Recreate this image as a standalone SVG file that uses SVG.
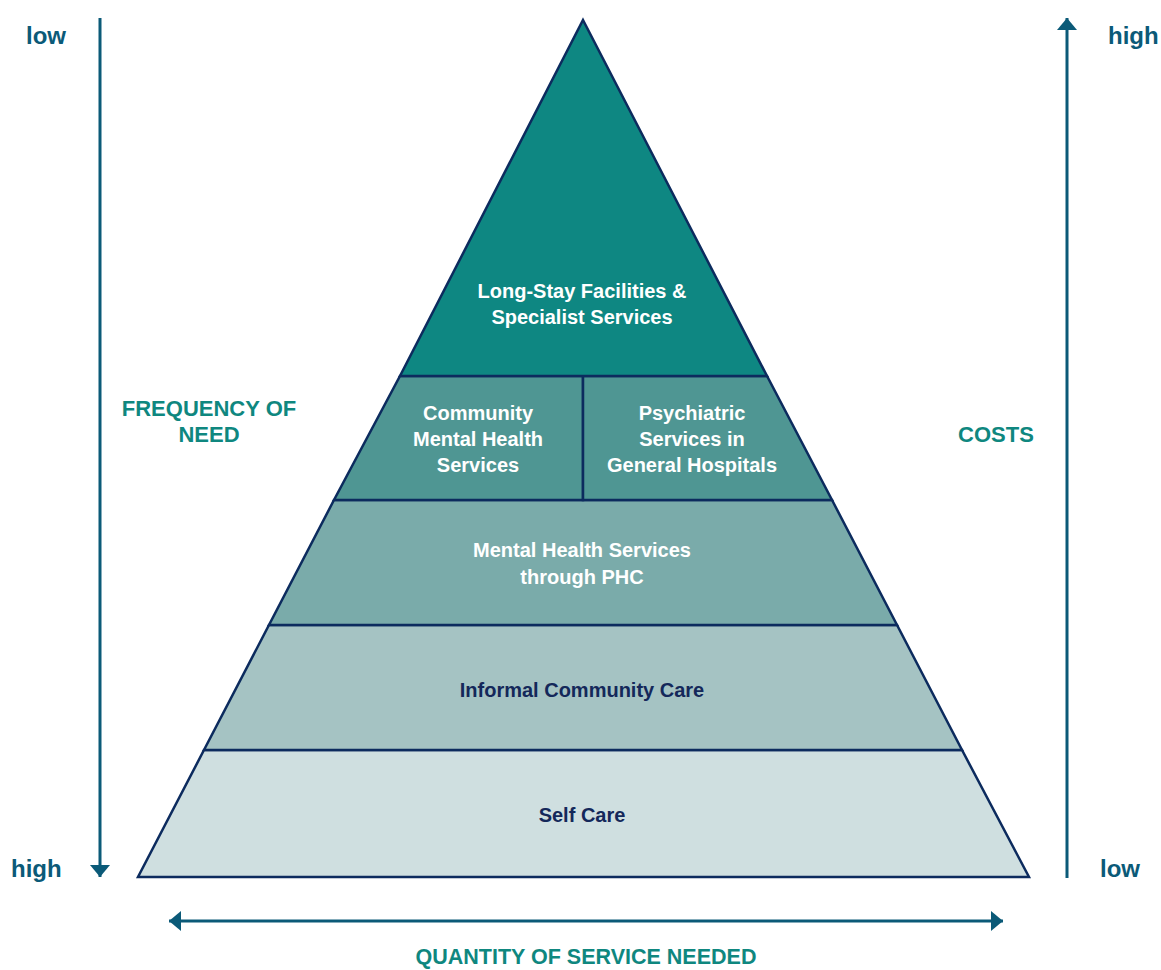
<svg xmlns="http://www.w3.org/2000/svg" width="1161" height="970" viewBox="0 0 1161 970">
<defs>
<style>
.band{stroke:#0c2b5e;stroke-width:2.5;stroke-linejoin:miter}
.wt{font-family:"Liberation Sans",Arial,sans-serif;font-weight:bold;font-size:20px;fill:#ffffff;text-anchor:middle}
.dk{font-family:"Liberation Sans",Arial,sans-serif;font-weight:bold;font-size:20px;fill:#14285a;text-anchor:middle}
.hd{font-family:"Liberation Sans",Arial,sans-serif;font-weight:bold;font-size:22px;fill:#0f877f;text-anchor:middle}
.ax{font-family:"Liberation Sans",Arial,sans-serif;font-weight:bold;font-size:24px;fill:#0b5a78}
.arr{stroke:#0b5a78;stroke-width:3;fill:none}
</style>
<marker id="ah" viewBox="0 0 12 20" refX="12" refY="10" markerWidth="12" markerHeight="20" markerUnits="userSpaceOnUse" orient="auto-start-reverse">
<path d="M0,0 L12,10 L0,20 Z" fill="#0b5a78"/>
</marker>
</defs>
<g id="level-self-care">
<polygon class="band" points="204,750 962,750 1029,877 138,877" fill="#cfdfe0"/>
<text class="dk" x="582" y="822">Self Care</text>
</g>
<g id="level-informal">
<polygon class="band" points="269,625 897,625 962,750 204,750" fill="#a5c3c3"/>
<text class="dk" x="582" y="697">Informal Community Care</text>
</g>
<g id="level-phc">
<polygon class="band" points="334,500 832,500 897,625 269,625" fill="#7aabaa"/>
<text class="wt" x="582" y="557">Mental Health Services</text>
<text class="wt" x="582" y="584">through PHC</text>
</g>
<g id="level-community">
<polygon class="band" points="400,376 583,376 583,500 334,500" fill="#4f9693"/>
<text class="wt" x="478" y="420">Community</text>
<text class="wt" x="478" y="446">Mental Health</text>
<text class="wt" x="478" y="472">Services</text>
</g>
<g id="level-psychiatric">
<polygon class="band" points="583,376 767,376 832,500 583,500" fill="#4f9693"/>
<text class="wt" x="692" y="420">Psychiatric</text>
<text class="wt" x="692" y="446">Services in</text>
<text class="wt" x="692" y="472">General Hospitals</text>
</g>
<g id="level-longstay">
<polygon class="band" points="583,20 767,376 400,376" fill="#0e8782"/>
<text class="wt" x="582" y="298">Long-Stay Facilities &amp;</text>
<text class="wt" x="582" y="324">Specialist Services</text>
</g>
<g id="connectors">
<line class="arr" x1="100" y1="18" x2="100" y2="877" marker-end="url(#ah)"/>
<line class="arr" x1="1067" y1="878" x2="1067" y2="18" marker-end="url(#ah)"/>
<line class="arr" x1="169" y1="921" x2="1003" y2="921" marker-start="url(#ah)" marker-end="url(#ah)"/>
</g>
<g id="labels">
<text class="ax" x="26" y="44">low</text>
<text class="ax" x="1108" y="44">high</text>
<text class="ax" x="11" y="877">high</text>
<text class="ax" x="1100" y="877">low</text>
<text class="hd" x="209" y="416">FREQUENCY OF</text>
<text class="hd" x="209" y="442">NEED</text>
<text class="hd" x="996" y="442">COSTS</text>
<text class="hd" x="586" y="964" style="font-size:21.5px">QUANTITY OF SERVICE NEEDED</text>
</g>
</svg>
